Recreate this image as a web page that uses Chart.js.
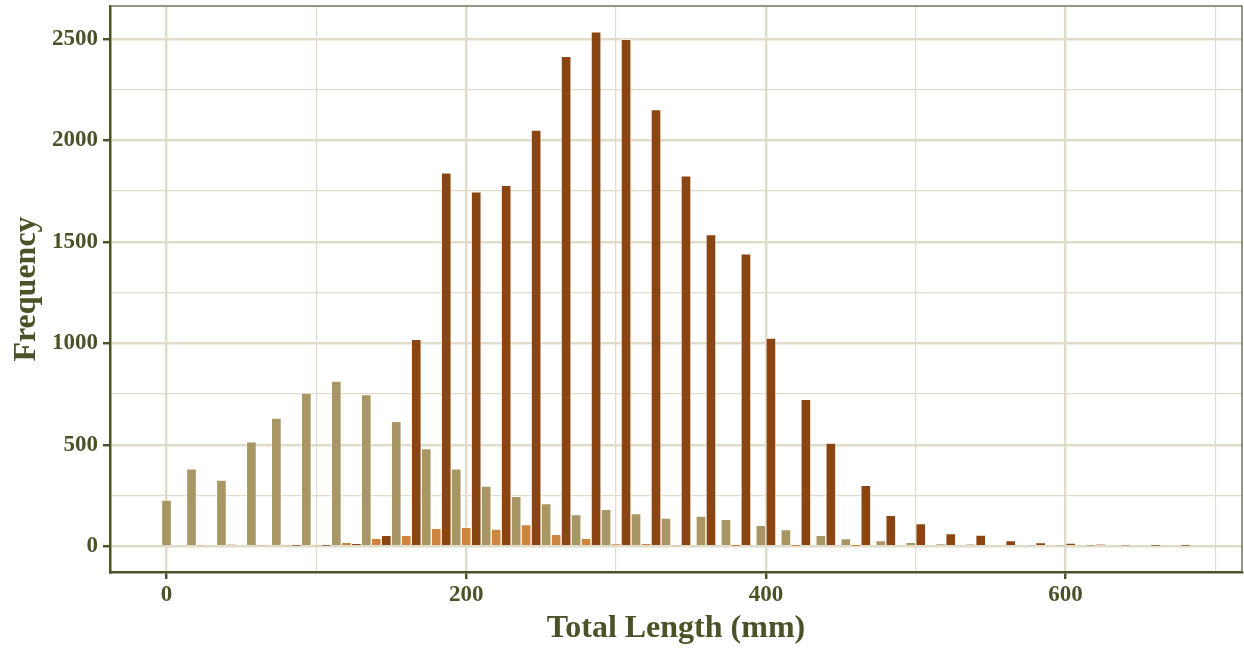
<!DOCTYPE html>
<html>
<head>
<meta charset="utf-8">
<title>Total Length Histogram</title>
<script src="https://cdn.jsdelivr.net/npm/chart.js@4.4.1/dist/chart.umd.min.js"></script>
<style>
  html, body { margin: 0; padding: 0; background: #ffffff; }
  #wrap { width: 1244px; height: 649px; }
</style>
</head>
<body>
<div id="wrap"><canvas id="chart" width="1244" height="649"></canvas></div>
<script>
// bin centres, 20 mm wide bins
const lengthBins = [0, 20, 40, 60, 80, 100, 120, 140, 160, 180, 200, 220, 240, 260, 280, 300, 320, 340,
  360, 380, 400, 420, 440, 460, 480, 500, 520, 540, 560, 580, 600, 620, 640, 660, 680];

// counts per bin; null = the group has no bin there (so it takes no slot in the dodge)
const countsTan = [228, 382, 326, 515, 632, 755, 814, 747, 616, 481, 382, 297, 246, 210, 156, 182, 161, 139,
  149, 133, 103, 82, 54, 38, 28, 20, 11, 9, 6, 5, 4, 3, null, null, null];
const countsPeru = [null, 4, 8, 4, 4, 5, 20, 39, 54, 88, 93, 85, 107, 59, 39, 11, 13, 5,
  null, 1, null, 1, null, 1, null, null, null, null, null, null, null, null, null, null, null];
const countsBrown = [null, null, null, null, 2, 2, 12, 54, 1020, 1840, 1746, 1778, 2050, 2414, 2535, 2497, 2152, 1825,
  1536, 1441, 1026, 724, 508, 300, 152, 112, 62, 55, 28, 18, 15, 8, 4, 3, 3];

const xGridValues = [0, 100, 200, 300, 400, 500, 600, 700];
const xLabelValues = [0, 200, 400, 600];
const yGridValues = [0, 250, 500, 750, 1000, 1250, 1500, 1750, 2000, 2250, 2500];
const yLabelValues = [0, 500, 1000, 1500, 2000, 2500];

const ink = '#4a5228';
const gridColor = '#e0dcc9';
const serif = "'Liberation Serif', 'DejaVu Serif', serif";

const isLabelled = (list, c) => !!c.tick && list.includes(c.tick.value);

// thin frame on the top and right of the panel
const panelFrame = {
  id: 'panelFrame',
  afterDatasetsDraw(chart) {
    const { ctx, chartArea: a } = chart;
    ctx.save();
    ctx.strokeStyle = '#6c7858';
    ctx.lineWidth = 1.5;
    ctx.beginPath();
    ctx.moveTo(a.left, a.top);
    ctx.lineTo(a.right, a.top);
    ctx.lineTo(a.right, a.bottom);
    ctx.stroke();
    ctx.restore();
  }
};

const barSet = (label, data, color) => ({
  label,
  data,
  backgroundColor: color,
  borderColor: 'rgba(255,255,255,0.5)',
  borderWidth: 1,
  barThickness: 10,
  skipNull: true
});

new Chart(document.getElementById('chart').getContext('2d'), {
  type: 'bar',
  data: {
    labels: lengthBins,
    datasets: [
      barSet('Tan', countsTan, '#a89665'),
      barSet('Peru', countsPeru, '#cd853f'),
      barSet('Brown', countsBrown, '#8b4513')
    ]
  },
  options: {
    responsive: false,
    devicePixelRatio: 1,
    animation: false,
    layout: { padding: { top: 6, right: 2, left: 0, bottom: 0 } },
    scales: {
      x: {
        type: 'linear',
        min: -37.7,
        max: 717.7,
        offset: false,
        afterBuildTicks: s => { s.ticks = xGridValues.map(v => ({ value: v })); },
        afterFit: s => { s.height = 77; s.paddingLeft = 0; s.paddingRight = 0; },
        grid: {
          offset: false,
          color: gridColor,
          lineWidth: c => isLabelled(xLabelValues, c) ? 2.4 : 1.2,
          tickLength: 7,
          tickWidth: 2.5,
          tickColor: c => isLabelled(xLabelValues, c) ? ink : 'rgba(0,0,0,0)'
        },
        border: { display: true, color: ink, width: 2.5 },
        ticks: {
          autoSkip: false,
          maxRotation: 0,
          padding: 2,
          color: ink,
          font: { family: serif, size: 23, weight: 'bold' },
          callback: v => xLabelValues.includes(v) ? String(v) : ''
        },
        title: {
          display: true,
          text: 'Total Length (mm)',
          color: ink,
          font: { family: serif, size: 32, weight: 'bold' },
          padding: { top: 0, bottom: 1 }
        }
      },
      y: {
        min: -126.75,
        max: 2661.75,
        afterBuildTicks: s => { s.ticks = yGridValues.map(v => ({ value: v })); },
        afterFit: s => { s.width = 110; s.paddingTop = 0; s.paddingBottom = 0; },
        grid: {
          color: gridColor,
          lineWidth: c => isLabelled(yLabelValues, c) ? 2.4 : 1.2,
          tickLength: 7,
          tickWidth: 2.5,
          tickColor: c => isLabelled(yLabelValues, c) ? ink : 'rgba(0,0,0,0)'
        },
        border: { display: true, color: ink, width: 2.5 },
        ticks: {
          autoSkip: false,
          padding: 5,
          color: ink,
          font: { family: serif, size: 23, weight: 'bold' },
          callback: v => yLabelValues.includes(v) ? String(v) : ''
        },
        title: {
          display: true,
          text: 'Frequency',
          color: ink,
          font: { family: serif, size: 32, weight: 'bold' },
          padding: { top: 8, bottom: 0 }
        }
      }
    },
    plugins: {
      legend: { display: false },
      tooltip: { enabled: false }
    }
  },
  plugins: [panelFrame]
});
</script>
</body>
</html>
